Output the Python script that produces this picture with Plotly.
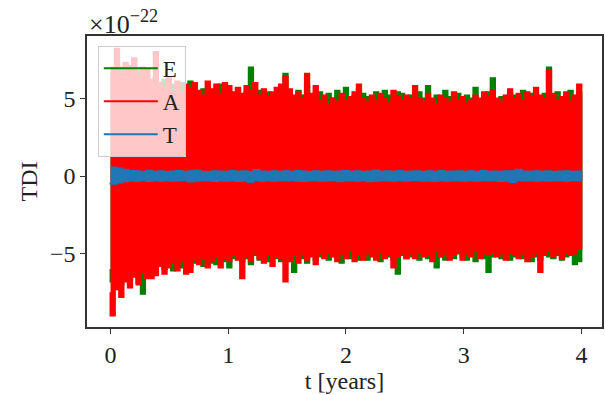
import numpy as np
import plotly.graph_objects as go

# ---- data (units of 1e-22) ----
# upper / lower excursions of each channel over t = 0 .. 4 years
E_hi = [6.6, 7.4, 7.0, 6.5, 7.1, 6.4, 6.8, 6.3, 6.6, 6.0,
        6.4, 5.8, 6.2, 5.5, 5.9, 5.6, 6.0, 5.2, 6.1, 5.4,
        5.2, 5.6, 5.4, 5.3, 5.5, 5.9, 5.1, 5.4, 5.2, 5.6,
        5.0, 5.4, 7.0, 5.3, 5.5, 5.0, 5.4, 5.2, 5.3, 5.5,
        6.6, 5.1, 5.0, 5.5, 5.2, 5.8, 5.0, 5.3, 5.4, 5.1,
        5.3, 5.0, 5.5, 5.1, 5.7, 4.9, 5.2, 5.6, 5.3, 5.1,
        4.9, 5.4, 5.0, 5.5, 5.2, 5.0, 5.4, 5.3, 4.9, 5.2,
        5.1, 5.4, 5.0, 5.8, 4.8, 5.2, 5.0, 5.5, 5.1, 4.9,
        5.3, 4.8, 5.2, 5.0, 5.7, 4.9, 5.1, 5.4, 6.3, 4.9,
        5.1, 4.9, 5.3, 5.2, 5.0, 5.5, 5.0, 5.3, 5.2, 5.0,
        5.3, 7.0, 5.1, 5.4, 5.0, 5.2, 5.5, 5.0, 5.4, 5.2]
E_lo = [-6.0, -6.8, -6.5, -7.0, -6.4, -6.7, -6.3, -6.9, -7.6, -6.1,
        -5.8, -6.2, -5.7, -6.0, -5.6, -6.1, -5.5, -5.9, -5.4, -5.8,
        -5.6, -5.3, -5.8, -5.4, -5.6, -5.7, -5.2, -5.5, -5.9, -5.3,
        -5.2, -5.5, -5.3, -5.7, -5.1, -5.4, -5.2, -5.5, -5.0, -5.3,
        -5.5, -5.1, -5.4, -6.2, -5.2, -5.3, -5.6, -5.0, -5.4, -5.2,
        -5.0, -5.4, -5.1, -5.3, -5.6, -5.0, -5.3, -5.2, -5.4, -5.0,
        -5.4, -5.1, -5.3, -5.5, -5.0, -5.2, -5.4, -6.3, -5.1, -5.3,
        -5.2, -5.0, -5.4, -5.1, -5.3, -5.0, -5.9, -5.2, -5.4, -5.1,
        -5.3, -5.0, -5.2, -5.4, -5.1, -5.5, -5.0, -5.3, -6.2, -5.2,
        -5.0, -5.3, -5.1, -5.4, -5.2, -5.0, -5.3, -5.1, -5.5, -5.2,
        -5.4, -5.0, -5.2, -5.3, -5.1, -5.4, -5.2, -5.0, -5.7, -5.5]
A_hi = [7.0, 8.2, 6.6, 7.3, 6.8, 7.6, 6.5, 7.0, 6.9, 6.2,
        8.0, 6.0, 5.6, 6.3, 5.4, 6.1, 5.3, 5.9, 5.7, 6.0,
        5.5, 5.2, 6.1, 5.6, 5.9, 5.3, 6.0, 5.8, 5.4, 5.7,
        5.3, 5.8, 5.5, 6.0, 5.2, 5.6, 5.1, 5.4, 5.7, 5.9,
        6.4, 5.6, 5.2, 5.4, 5.0, 6.6, 5.3, 5.8, 4.9, 5.2,
        4.6, 5.0, 4.8, 5.3, 4.9, 5.1, 5.4, 5.9, 5.0, 4.8,
        5.2, 4.9, 5.3, 5.0, 4.7, 5.5, 5.1, 4.9, 5.2, 5.0,
        5.8, 5.0, 4.8, 5.3, 5.0, 4.6, 5.2, 5.0, 4.8, 5.4,
        4.9, 5.1, 4.7, 4.9, 5.2, 5.0, 5.4, 5.1, 5.5, 5.0,
        4.8, 5.2, 5.6, 5.0, 5.3, 4.9, 5.4, 5.1, 5.7, 5.2,
        5.0, 6.8, 5.3, 4.9, 5.1, 5.4, 4.8, 5.2, 5.9, 5.5]
A_lo = [-7.5, -9.0, -7.3, -7.8, -6.8, -7.2, -6.5, -7.0, -6.2, -6.6,
        -6.6, -6.4, -5.8, -6.3, -5.9, -5.6, -6.1, -5.5, -6.3, -6.2,
        -5.4, -5.7, -5.3, -5.9, -5.5, -5.2, -5.9, -5.3, -5.5, -5.1,
        -5.4, -6.6, -5.2, -5.5, -5.0, -5.3, -5.6, -5.1, -5.8, -5.2,
        -5.3, -6.8, -5.5, -5.1, -5.6, -5.0, -5.4, -5.2, -5.7, -5.0,
        -5.3, -4.9, -5.2, -5.5, -5.0, -5.3, -4.8, -5.5, -5.1, -5.4,
        -5.0, -5.2, -5.4, -4.9, -5.3, -5.1, -5.9, -5.2, -5.0, -5.3,
        -5.0, -5.3, -4.9, -5.2, -5.1, -5.5, -4.8, -5.2, -5.0, -5.4,
        -5.1, -4.9, -5.4, -5.0, -5.2, -4.8, -5.3, -5.0, -5.1, -4.9,
        -5.2, -5.0, -5.4, -4.9, -5.1, -5.3, -5.0, -5.5, -5.2, -5.0,
        -6.2, -5.1, -4.8, -5.2, -5.0, -5.3, -4.9, -5.1, -5.0, -4.7]
T_hi = [0.55, 0.48, 0.40, 0.33, 0.30, 0.28, 0.34, 0.27, 0.30, 0.26,
        0.29, 0.32, 0.27, 0.30, 0.36, 0.28, 0.26, 0.31, 0.29, 0.27,
        0.33, 0.28, 0.30, 0.26, 0.38, 0.29, 0.27, 0.31, 0.28, 0.30,
        0.27, 0.32, 0.29, 0.26, 0.30, 0.28, 0.31, 0.27, 0.29, 0.33,
        0.28, 0.30, 0.26, 0.29, 0.35, 0.27, 0.30, 0.28, 0.32, 0.27,
        0.29, 0.31, 0.26, 0.30, 0.28, 0.33, 0.27, 0.29, 0.31, 0.28,
        0.30, 0.26, 0.32, 0.28, 0.29, 0.27, 0.31, 0.30, 0.40, 0.29,
        0.27, 0.30, 0.28, 0.31, 0.26, 0.29, 0.30, 0.27, 0.29, 0.28]
T_lo = [-0.55, -0.50, -0.42, -0.34, -0.29, -0.31, -0.27, -0.33, -0.28, -0.30,
        -0.27, -0.31, -0.29, -0.26, -0.35, -0.30, -0.28, -0.27, -0.32, -0.29,
        -0.30, -0.27, -0.33, -0.29, -0.37, -0.28, -0.30, -0.27, -0.31, -0.28,
        -0.29, -0.26, -0.30, -0.32, -0.28, -0.27, -0.30, -0.29, -0.27, -0.34,
        -0.29, -0.28, -0.31, -0.27, -0.34, -0.30, -0.28, -0.29, -0.31, -0.27,
        -0.30, -0.28, -0.27, -0.31, -0.29, -0.32, -0.28, -0.30, -0.27, -0.29,
        -0.31, -0.28, -0.30, -0.27, -0.29, -0.28, -0.32, -0.30, -0.39, -0.28,
        -0.29, -0.27, -0.30, -0.28, -0.31, -0.29, -0.27, -0.30, -0.28, -0.29]

T_START, T_END = 0.0, 4.0
x_ticks = [0, 1, 2, 3, 4]
y_ticks = [-5, 0, 5]
y_ticktext = ["\u22125", "0", "5"]


def band(hi, lo):
    """Closed outline: upper excursions forward in time, lower ones back."""
    t = np.linspace(T_START, T_END, len(hi))
    x = np.concatenate([t, t[::-1]])
    y = np.concatenate([np.asarray(hi, float), np.asarray(lo, float)[::-1]])
    return x, y


FONT = "Liberation Serif, Times New Roman, serif"
FS = 24
fig = go.Figure()
for name, hi, lo, color, w in [("E", E_hi, E_lo, "#008000", 2.0),
                               ("A", A_hi, A_lo, "#ff0000", 2.0),
                               ("T", T_hi, T_lo, "#1f77b4", 2.0)]:
    x, y = band(hi, lo)
    # filled body of the signal
    fig.add_trace(go.Scatter(x=x, y=y, mode="lines", fill="toself",
                             fillcolor=color, showlegend=False,
                             line=dict(color=color, width=0.5, shape="hv",
                                       simplify=False),
                             hoverinfo="skip"))
    # edge strokes (legend entry)
    fig.add_trace(go.Scatter(x=x, y=y, mode="lines", name=name,
                             line=dict(color=color, width=w, shape="hv",
                                       simplify=False),
                             hoverinfo="skip"))

axis_common = dict(showline=True, linecolor="#333", linewidth=1.5, mirror=True,
                   ticks="outside", ticklen=5, tickwidth=1.2, tickcolor="#333",
                   showgrid=False, zeroline=False,
                   tickfont=dict(family=FONT, size=FS, color="#222"))

fig.update_layout(
    width=605, height=395,
    margin=dict(l=87, r=1, t=36, b=68),
    paper_bgcolor="white", plot_bgcolor="white",
    font=dict(family=FONT, size=FS, color="#222"),
    xaxis=dict(range=[-0.2, 4.175], tickvals=x_ticks,
               title=dict(text="t [years]", standoff=4,
                          font=dict(family=FONT, size=FS)),
               **axis_common),
    yaxis=dict(range=[-9.74, 9.03], tickvals=y_ticks, ticktext=y_ticktext,
               title=dict(text="TDI", standoff=6,
                          font=dict(family=FONT, size=FS)),
               **axis_common),
    legend=dict(x=0.021, y=0.966, xanchor="left", yanchor="top",
                bgcolor="rgba(255,255,255,0.78)", bordercolor="#cccccc",
                borderwidth=1, font=dict(family=FONT, size=FS - 1),
                tracegroupgap=0, traceorder="normal", itemwidth=54),
    showlegend=True,
)
fig.add_annotation(text="\u00d710<sup>\u221222</sup>", xref="paper", yref="paper",
                   x=0.0, y=1.0, xanchor="left", yanchor="bottom", showarrow=False,
                   font=dict(family=FONT, size=26, color="#222"), yshift=-5)

fig.write_html("out.html")
